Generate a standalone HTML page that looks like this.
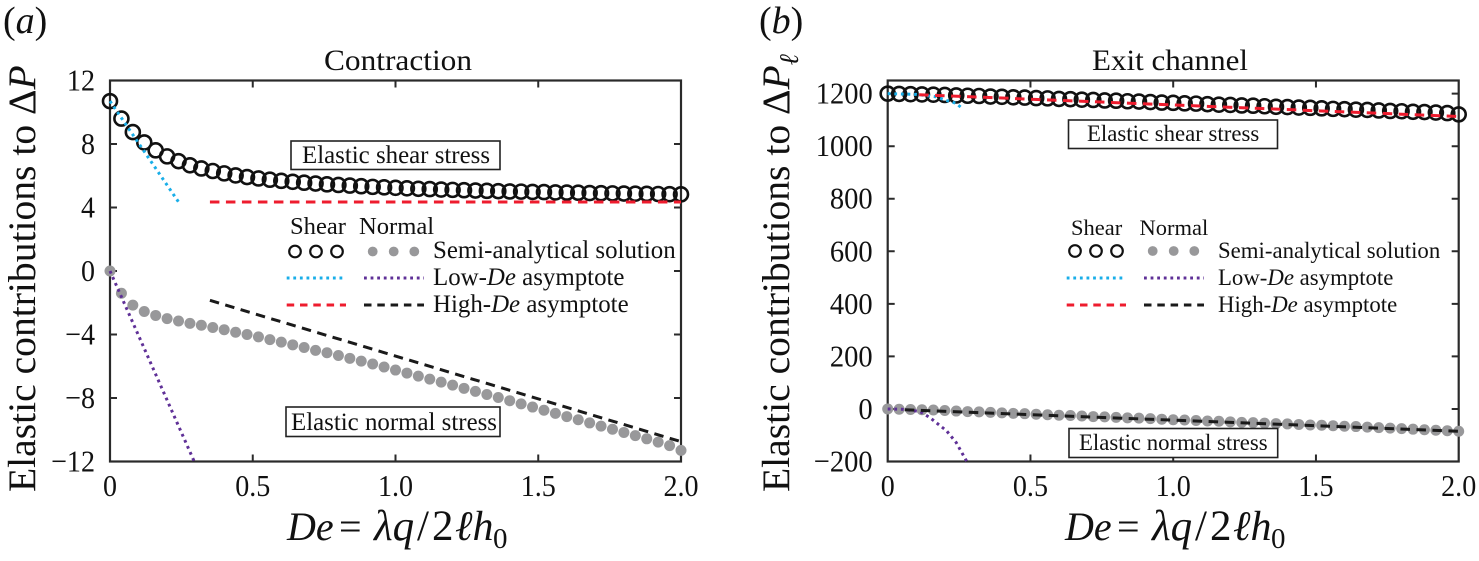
<!DOCTYPE html>
<html lang="en">
<head>
<meta charset="utf-8">
<title>Elastic contributions to pressure drop</title>
<style>
html,body{margin:0;padding:0;background:#fff;}
svg{display:block;}
text{font-family:"Liberation Serif","DejaVu Serif",serif;fill:#111;}
.tick-label{font-size:30.5px;}
.tick-label-b{font-size:31px;}
.it{font-style:italic;}
</style>
</head>
<body>
<svg id="figure" width="1479" height="561" viewBox="0 0 1479 561" xmlns="http://www.w3.org/2000/svg">
  <text x="3" y="33" font-size="38">(<tspan class="it">a</tspan>)</text>
  <text x="759" y="33" font-size="38">(<tspan class="it">b</tspan>)</text>
  <text x="398" y="70" font-size="30" text-anchor="middle" textLength="148" lengthAdjust="spacingAndGlyphs">Contraction</text>
  <text x="1170" y="70" font-size="30" text-anchor="middle" textLength="156" lengthAdjust="spacingAndGlyphs">Exit channel</text>
  <text transform="translate(35,492) rotate(-90)" font-size="39.6">Elastic contributions to Δ<tspan class="it">P</tspan></text>
  <text transform="translate(789,492) rotate(-90)" font-size="39.6">Elastic contributions to Δ<tspan class="it">P</tspan><tspan class="it" font-size="27" dy="9">ℓ</tspan></text>
  <text y="540" font-size="40"><tspan class="it" x="287">De</tspan><tspan x="339">=</tspan><tspan class="it" x="374" font-size="43">λq</tspan><tspan x="417" font-size="43">/</tspan><tspan x="432" font-size="43">2</tspan><tspan class="it" x="455" font-size="42">ℓh</tspan><tspan x="493" font-size="29" dy="8">0</tspan></text>
  <text y="540" font-size="40"><tspan class="it" x="1065">De</tspan><tspan x="1117">=</tspan><tspan class="it" x="1152" font-size="43">λq</tspan><tspan x="1195" font-size="43">/</tspan><tspan x="1210" font-size="43">2</tspan><tspan class="it" x="1233" font-size="42">ℓh</tspan><tspan x="1271" font-size="29" dy="8">0</tspan></text>
  <g id="plot-a"></g>
  <g id="plot-b"></g>

  <g>
    <rect x="291" y="141" width="209" height="28.5" fill="#fff" stroke="#222" stroke-width="1.6"/>
    <text x="302" y="163" font-size="24.9">Elastic shear stress</text>
    <rect x="286" y="407" width="214" height="29.5" fill="#fff" stroke="#222" stroke-width="1.6"/>
    <text x="291" y="430" font-size="24.9">Elastic normal stress</text>
  </g>
  <g>
    <text x="290" y="234" font-size="24.6">Shear</text>
    <text x="359" y="234" font-size="24.6">Normal</text>
    <g fill="none" stroke="#111" stroke-width="2.2">
      <circle cx="295" cy="251.5" r="5.8"/><circle cx="316" cy="251.5" r="5.8"/><circle cx="337" cy="251.5" r="5.8"/>
    </g>
    <g fill="#98989a">
      <circle cx="372.7" cy="251.5" r="4.9"/><circle cx="393.7" cy="251.5" r="4.9"/><circle cx="414.3" cy="251.5" r="4.9"/>
    </g>
    <text x="433" y="258" font-size="24.9">Semi-analytical solution</text>
    <line x1="286.7" x2="346" y1="278" y2="278" stroke="#19aee8" stroke-width="3" stroke-dasharray="2.8 3.8"/>
    <line x1="364" x2="424" y1="278" y2="278" stroke="#5f3097" stroke-width="3" stroke-dasharray="2.8 3.8"/>
    <text x="433" y="285" font-size="24.9">Low-<tspan class="it">De</tspan> asymptote</text>
    <line x1="286.7" x2="346" y1="305" y2="305" stroke="#ee1c2e" stroke-width="3" stroke-dasharray="7.5 5.8"/>
    <line x1="364" x2="424" y1="305" y2="305" stroke="#1a1a1a" stroke-width="3" stroke-dasharray="7.5 5.8"/>
    <text x="433" y="312" font-size="24.9">High-<tspan class="it">De</tspan> asymptote</text>
  </g>

  <g>
    <rect x="1068.5" y="120" width="209" height="28.5" fill="#fff" stroke="#222" stroke-width="1.6"/>
    <text x="1087" y="141" font-size="22.8">Elastic shear stress</text>
    <rect x="1069" y="428.5" width="208.7" height="29" fill="#fff" stroke="#222" stroke-width="1.6"/>
    <text x="1079" y="450" font-size="22.8">Elastic normal stress</text>
  </g>
  <g>
    <text x="1071" y="235" font-size="22.5">Shear</text>
    <text x="1139.5" y="235" font-size="22.5">Normal</text>
    <g fill="none" stroke="#111" stroke-width="2.2">
      <circle cx="1075" cy="251" r="5.8"/><circle cx="1096" cy="251" r="5.8"/><circle cx="1117" cy="251" r="5.8"/>
    </g>
    <g fill="#98989a">
      <circle cx="1152.7" cy="251" r="4.9"/><circle cx="1173.7" cy="251" r="4.9"/><circle cx="1194.3" cy="251" r="4.9"/>
    </g>
    <text x="1218" y="258" font-size="22.8">Semi-analytical solution</text>
    <line x1="1066.7" x2="1126" y1="278" y2="278" stroke="#19aee8" stroke-width="3" stroke-dasharray="2.8 3.8"/>
    <line x1="1144" x2="1204" y1="278" y2="278" stroke="#5f3097" stroke-width="3" stroke-dasharray="2.8 3.8"/>
    <text x="1218" y="285" font-size="22.8">Low-<tspan class="it">De</tspan> asymptote</text>
    <line x1="1066.7" x2="1126" y1="305" y2="305" stroke="#ee1c2e" stroke-width="3" stroke-dasharray="7.5 5.8"/>
    <line x1="1144" x2="1204" y1="305" y2="305" stroke="#1a1a1a" stroke-width="3" stroke-dasharray="7.5 5.8"/>
    <text x="1218" y="312" font-size="22.8">High-<tspan class="it">De</tspan> asymptote</text>
  </g>
</svg>

<script>
// Shared De sample step and tick labels
const deStep = 0.04;
const xTicks = [0, 0.5, 1.0, 1.5, 2.0];
const xTickLabels = ['0', '0.5', '1.0', '1.5', '2.0'];

// Panel (a): Contraction
const aYTicks = [12, 8, 4, 0, -4, -8, -12];
const aYTickLabels = ['12', '8', '4', '0', '\u22124', '\u22128', '\u221212'];
const aShear = [10.7, 9.6, 8.75, 8.1, 7.6, 7.22, 6.92, 6.66, 6.46, 6.3, 6.15, 6.02, 5.92, 5.83, 5.75, 5.68, 5.62, 5.56, 5.51, 5.46, 5.42, 5.38, 5.34, 5.3, 5.27, 5.24, 5.21, 5.18, 5.16, 5.13, 5.11, 5.09, 5.07, 5.05, 5.03, 5.01, 5.0, 4.98, 4.97, 4.95, 4.94, 4.93, 4.91, 4.9, 4.89, 4.88, 4.87, 4.86, 4.85, 4.84, 4.83];
const aNormal = [0, -1.4, -2.15, -2.55, -2.8, -3.0, -3.15, -3.3, -3.42, -3.56, -3.7, -3.86, -4.0, -4.15, -4.32, -4.48, -4.65, -4.82, -5.0, -5.15, -5.32, -5.5, -5.68, -5.86, -6.05, -6.24, -6.43, -6.62, -6.81, -7.0, -7.19, -7.39, -7.58, -7.78, -7.97, -8.17, -8.37, -8.57, -8.77, -8.97, -9.17, -9.37, -9.57, -9.77, -9.97, -10.17, -10.37, -10.57, -10.78, -11.0, -11.3];
const aLowShearDe = [0, 0.24];
const aLowShear = [10.7, 4.35];
const aLowNormalDe = [0, 0.295];
const aLowNormal = [0, -12];
const aHighShearDe = [0.35, 2.0];
const aHighShear = [4.35, 4.35];
const aHighNormalDe = [0.35, 2.0];
const aHighNormal = [-1.85, -10.75];

// Panel (b): Exit channel
const bYTicks = [1200, 1000, 800, 600, 400, 200, 0, -200];
const bYTickLabels = ['1200', '1000', '800', '600', '400', '200', '0', '\u2212200'];
const bShear = [1200, 1199, 1198, 1197, 1196, 1195, 1193, 1192, 1191, 1189, 1188, 1186, 1185, 1183, 1182, 1180, 1179, 1177, 1176, 1174, 1173, 1171, 1170, 1168, 1166, 1165, 1163, 1162, 1160, 1158, 1157, 1155, 1154, 1152, 1150, 1149, 1147, 1146, 1144, 1142, 1141, 1139, 1138, 1136, 1134, 1133, 1131, 1130, 1128, 1126, 1121];
const bNormal = [0, -1, -2, -3, -4, -6, -8, -10, -11, -13, -15, -17, -18, -20, -22, -24, -25, -27, -29, -30, -32, -34, -35, -37, -39, -41, -42, -44, -46, -47, -49, -51, -52, -54, -56, -57, -59, -61, -62, -64, -66, -67, -69, -71, -73, -75, -77, -79, -81, -83, -85];
const bLowShearDe = [0, 0.1, 0.17, 0.2, 0.24, 0.265];
const bLowShear = [1200, 1197, 1188, 1176, 1163, 1140];
const bLowNormalDe = [0, 0.05, 0.113, 0.148, 0.206, 0.24, 0.277];
const bLowNormal = [0, -1, -10, -33, -83, -128, -200];
const bHighShearDe = [0.11, 2.0];
const bHighShear = [1196, 1113];
const bHighNormalDe = [0.06, 2.0];
const bHighNormal = [-3, -85];

const NS = 'http://www.w3.org/2000/svg';

function scale(d0, d1, r0, r1) {
  return function (v) { return r0 + (v - d0) * (r1 - r0) / (d1 - d0); };
}
const axA = { x: scale(0, 2, 110, 681), y: scale(-12, 12, 461.5, 80.5) };
const axB = { x: scale(0, 2, 887.7, 1458.7), y: scale(-200, 1250, 461.5, 80.5) };

// Reference digits are taller and narrower than Liberation Serif's
function condense(lab) {
  lab.setAttribute('textLength', (lab.getComputedTextLength() * 0.92).toFixed(1));
  lab.setAttribute('lengthAdjust', 'spacingAndGlyphs');
}

function drawFrame(root, ax, yTicks, yLabels, tickClass, box) {
  const frame = document.createElementNS(NS, 'rect');
  
  
  frame.setAttribute('x', box[0]);
  frame.setAttribute('y', box[2]);
  frame.setAttribute('width', box[1] - box[0]);
  frame.setAttribute('height', box[3] - box[2]);
  frame.setAttribute('fill', 'none');
  frame.setAttribute('stroke', '#2a2a2a');
  frame.setAttribute('stroke-width', '2.2');
  root.appendChild(frame);

  xTicks.forEach(function (t, i) {
    const x = ax.x(t);
    if (t > 0 && t < 2) {
      const tb = document.createElementNS(NS, 'path');
      
      
      tb.setAttribute('d', 'M' + x + ' ' + box[3] + 'v-7M' + x + ' ' + box[2] + 'v7');
      tb.setAttribute('stroke', '#2a2a2a');
      tb.setAttribute('stroke-width', '2');
      root.appendChild(tb);
    }
    const lab = document.createElementNS(NS, 'text');
    
    
    lab.setAttribute('x', x);
    lab.setAttribute('y', '496');
    lab.setAttribute('text-anchor', 'middle');
    lab.setAttribute('class', 'tick-label');
    lab.textContent = xTickLabels[i];
    root.appendChild(lab);
    condense(lab);
  });

  yTicks.forEach(function (t, i) {
    const y = ax.y(t);
    const tk = document.createElementNS(NS, 'path');
    
    
    tk.setAttribute('d', 'M' + box[0] + ' ' + y + 'h7M' + box[1] + ' ' + y + 'h-7');
    tk.setAttribute('stroke', '#2a2a2a');
    tk.setAttribute('stroke-width', '2');
    root.appendChild(tk);
    const lab = document.createElementNS(NS, 'text');
    
    
    lab.setAttribute('x', box[0] - 15);
    lab.setAttribute('y', y + 10);
    lab.setAttribute('text-anchor', 'end');
    lab.setAttribute('class', tickClass);
    lab.textContent = yLabels[i];
    root.appendChild(lab);
    condense(lab);
  });
}

function drawShearPoints(root, ax, values) {
  values.forEach(function (v, i) {
    const c = document.createElementNS(NS, 'circle');
    
    
    c.setAttribute('cx', ax.x(i * deStep));
    c.setAttribute('cy', ax.y(v));
    c.setAttribute('r', '7');
    c.setAttribute('fill', 'none');
    c.setAttribute('stroke', '#111');
    c.setAttribute('stroke-width', '2.6');
    root.appendChild(c);
  });
}

function drawNormalPoints(root, ax, values) {
  values.forEach(function (v, i) {
    const c = document.createElementNS(NS, 'circle');
    
    
    c.setAttribute('cx', ax.x(i * deStep));
    c.setAttribute('cy', ax.y(v));
    c.setAttribute('r', '5.5');
    c.setAttribute('fill', '#98989a');
    root.appendChild(c);
  });
}

function drawLine(root, ax, xs, ys, name, color, dash) {
  const p = document.createElementNS(NS, 'polyline');
  
  
  p.setAttribute('points', xs.map(function (d, i) { return ax.x(d) + ',' + ax.y(ys[i]); }).join(' '));
  p.setAttribute('fill', 'none');
  p.setAttribute('stroke', color);
  p.setAttribute('stroke-width', '3');
  p.setAttribute('stroke-dasharray', dash);
  root.appendChild(p);
}

const DOT = '2.8 3.8';
const DASH = '9.5 6.5';

const plotA = document.getElementById('plot-a');
drawFrame(plotA, axA, aYTicks, aYTickLabels, 'tick-label', [110, 681, 80.5, 461.5]);
drawShearPoints(plotA, axA, aShear);
drawNormalPoints(plotA, axA, aNormal);
drawLine(plotA, axA, aLowShearDe, aLowShear, 'low-de-shear-asymptote', '#19aee8', DOT);
drawLine(plotA, axA, aLowNormalDe, aLowNormal, 'low-de-normal-asymptote', '#5f3097', DOT);
drawLine(plotA, axA, aHighShearDe, aHighShear, 'high-de-shear-asymptote', '#ee1c2e', DASH);
drawLine(plotA, axA, aHighNormalDe, aHighNormal, 'high-de-normal-asymptote', '#1a1a1a', DASH);

const plotB = document.getElementById('plot-b');
drawFrame(plotB, axB, bYTicks, bYTickLabels, 'tick-label-b', [887.7, 1458.7, 80.5, 461.5]);
drawShearPoints(plotB, axB, bShear);
drawNormalPoints(plotB, axB, bNormal);
drawLine(plotB, axB, bLowShearDe, bLowShear, 'low-de-shear-asymptote', '#19aee8', DOT);
drawLine(plotB, axB, bLowNormalDe, bLowNormal, 'low-de-normal-asymptote', '#5f3097', DOT);
drawLine(plotB, axB, bHighShearDe, bHighShear, 'high-de-shear-asymptote', '#ee1c2e', DASH);
drawLine(plotB, axB, bHighNormalDe, bHighNormal, 'high-de-normal-asymptote', '#1a1a1a', DASH);
</script>
</body>
</html>
